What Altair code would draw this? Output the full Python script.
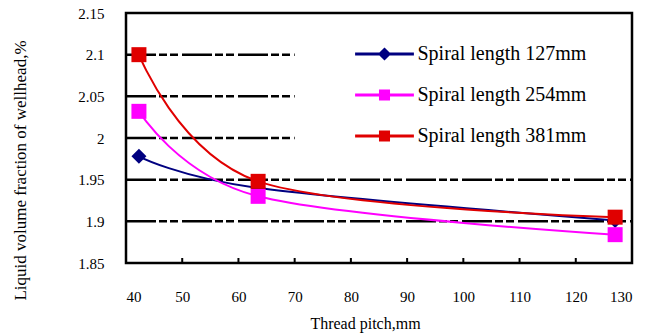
import altair as alt
import pandas as pd

# ---- data ----
pitch = [42.3, 63.5, 127.0]
series_names = ["Spiral length 127mm", "Spiral length 254mm", "Spiral length 381mm"]
len127 = [1.978, 1.940, 1.901]
len254 = [2.032, 1.930, 1.884]
len381 = [2.100, 1.948, 1.905]

colors = ["#000080", "#FF00FF", "#E00000"]
marker_shapes = ["diamond", "square", "square"]
legend_paths = [
    "M-4.9,-0.25H4.9V0.25H-4.9Z M0,-1.1L1.1,0L0,1.1L-1.1,0Z",
    "M-4.9,-0.25H4.9V0.25H-4.9Z M-0.92,-0.92H0.92V0.92H-0.92Z",
    "M-4.9,-0.25H4.9V0.25H-4.9Z M-0.92,-0.92H0.92V0.92H-0.92Z",
]

x_ticks = [40, 50, 60, 70, 80, 90, 100, 110, 120, 130]
inner_ticks = [50, 60, 70, 80, 90, 100, 110, 120]
y_ticks = [1.85, 1.9, 1.95, 2.0, 2.05, 2.1, 2.15]
grid_y = [1.9, 1.95, 2.0, 2.05, 2.1]
grid_x_start = [40, 40, 40, 40, 40]
grid_x_end = [130, 130, 70, 70, 70]

FONT = "Liberation Serif"
W, H = 506, 250

rows = []
for name, vals in zip(series_names, [len127, len254, len381]):
    for p, v in zip(pitch, vals):
        rows.append({"series": name, "pitch": p, "value": v})
df = pd.DataFrame(rows)

grid_df = pd.DataFrame({"gy": grid_y, "x0": grid_x_start, "x1": grid_x_end})
tick_df = pd.DataFrame({"tx": inner_ticks})

xscale = alt.Scale(domain=[40, 130], nice=False, zero=False)
yscale = alt.Scale(domain=[1.85, 2.15], nice=False, zero=False)

x_axis = alt.Axis(
    values=x_ticks, ticks=False, domain=False, grid=False,
    labelFont=FONT, labelFontSize=15, labelColor="black", labelPadding=26,
    title="Thread pitch,mm", titleFont=FONT, titleFontSize=16, titleFontWeight="normal",
    titleColor="black", titleX=239, titleY=65, titleAlign="center", titleBaseline="alphabetic",
)
y_axis = alt.Axis(
    values=y_ticks, format=".2~f", ticks=False, domain=False, grid=False,
    labelFont=FONT, labelFontSize=15, labelColor="black", labelPadding=22,
    title="Liquid volume fraction of wellhead,%", titleFont=FONT, titleFontSize=17,
    titleFontWeight="normal", titleColor="black", titleAngle=270,
    titleX=-101, titleY=157, titleAlign="center", titleBaseline="alphabetic",
)

grid = alt.Chart(grid_df).mark_rule(
    color="black", strokeWidth=2.5, strokeDash=[30, 3, 8, 3, 8, 4]
).encode(
    x=alt.X("x0:Q", scale=xscale, axis=x_axis),
    x2="x1:Q",
    y=alt.Y("gy:Q", scale=yscale, axis=y_axis),
)

ticks = alt.Chart(tick_df).mark_rule(color="black", strokeWidth=2).encode(
    x=alt.X("tx:Q", scale=xscale, axis=x_axis),
    y=alt.value(H),
    y2=alt.value(H - 5),
)

color_scale = alt.Scale(domain=series_names, range=colors)

lines = alt.Chart(df).mark_line(interpolate="cardinal", strokeWidth=2).encode(
    x=alt.X("pitch:Q", scale=xscale, axis=x_axis),
    y=alt.Y("value:Q", scale=yscale, axis=y_axis),
    color=alt.Color("series:N", scale=color_scale, legend=None),
)

points = alt.Chart(df).mark_point(filled=True, opacity=1, size=225, strokeWidth=0).encode(
    x=alt.X("pitch:Q", scale=xscale, axis=x_axis),
    y=alt.Y("value:Q", scale=yscale, axis=y_axis),
    color=alt.Color("series:N", scale=color_scale, legend=None),
    shape=alt.Shape("series:N", scale=alt.Scale(domain=series_names, range=marker_shapes), legend=None),
)

legend_props = dict(
    orient="none", legendX=248.5, legendY=31, title=None,
    labelFont=FONT, labelFontSize=20, labelColor="black", labelBaseline="middle",
    labelLimit=400,
    symbolSize=144, labelOffset=23, rowPadding=21, padding=0, symbolStrokeWidth=0,
    symbolOpacity=1,
)

legend_layer = alt.Chart(df).transform_filter("false").mark_point(filled=True, opacity=1).encode(
    x=alt.X("pitch:Q", scale=xscale, axis=x_axis),
    y=alt.Y("value:Q", scale=yscale, axis=y_axis),
    color=alt.Color("series:N", scale=color_scale, legend=alt.Legend(**legend_props)),
    shape=alt.Shape("series:N", scale=alt.Scale(domain=series_names, range=legend_paths),
                    legend=alt.Legend(**legend_props)),
)

chart = alt.layer(grid, ticks, lines, points, legend_layer).resolve_scale(
    color="independent", shape="independent"
).properties(
    width=W, height=H,
    autosize="none",
    padding={"left": 126, "top": 13, "right": 15, "bottom": 71},
    background="white",
).configure_view(stroke="black", strokeWidth=2.5)

chart.save("out.html", embed_options={"renderer": "svg", "actions": False})
